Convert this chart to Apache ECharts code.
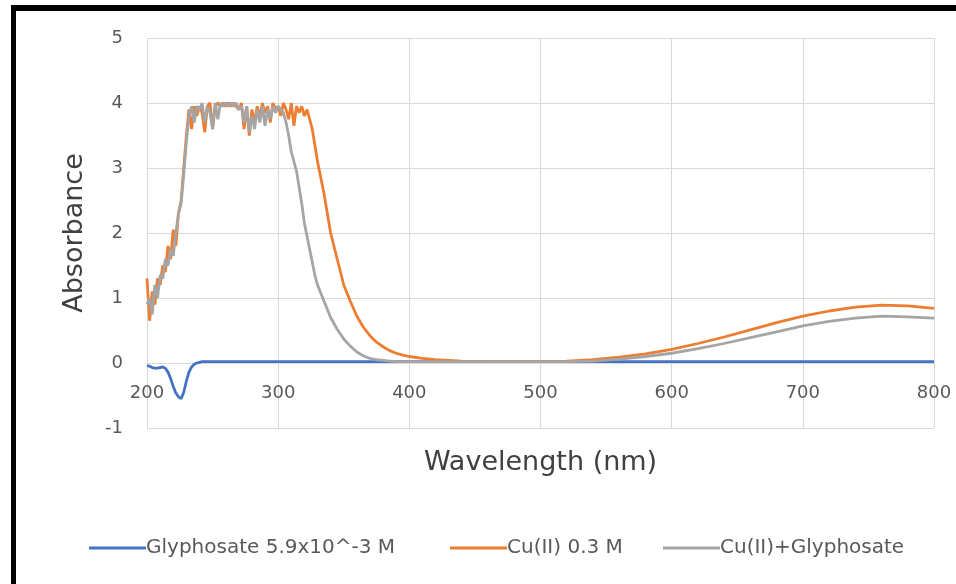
<!DOCTYPE html>
<html>
<head>
<meta charset="utf-8">
<script src="https://cdn.jsdelivr.net/npm/echarts@6/dist/echarts.min.js"></script>
<style>
html,body{margin:0;padding:0;background:#fff;}
#main{width:956px;height:584px;}
</style>
</head>
<body>
<div id="main"></div>
<script>
// wavelength (nm)
var wavelength = [
    200,202,204,206,208,210,212,214,216,218,220,222,224,226,228,230,232,234,236,238,
    240,242,244,246,248,250,252,254,256,258,260,262,264,266,268,270,272,274,276,278,
    280,282,284,286,288,290,292,294,296,298,300,302,304,306,308,310,312,314,316,318,
    320,322,324,326,328,330,
    335,340,345,350,355,360,365,370,375,380,385,390,395,400,
    410,420,440,460,480,500,520,540,560,580,600,620,640,660,680,700,720,740,760,780,800
];
// Glyphosate 5.9x10^-3 M
var glyphosate = [
    -0.04,-0.05,-0.07,-0.08,-0.08,-0.07,-0.06,-0.08,-0.14,-0.24,-0.36,-0.46,-0.52,-0.55,-0.45,-0.28,-0.14,-0.06,-0.02,0.0,
    0.01,0.02,0.02,0.02,0.02,0.02,0.02,0.02,0.02,0.02,0.02,0.02,0.02,0.02,0.02,0.02,0.02,0.02,0.02,0.02,
    0.02,0.02,0.02,0.02,0.02,0.02,0.02,0.02,0.02,0.02,0.02,0.02,0.02,0.02,0.02,0.02,0.02,0.02,0.02,0.02,
    0.02,0.02,0.02,0.02,0.02,0.02,
    0.02,0.02,0.02,0.02,0.02,0.02,0.02,0.02,0.02,0.02,0.02,0.02,0.02,0.02,
    0.02,0.02,0.02,0.02,0.02,0.02,0.02,0.02,0.02,0.02,0.02,0.02,0.02,0.02,0.02,0.02,0.02,0.02,0.02,0.02,0.02
];
// Cu(II) 0.3 M
var copper = [
    1.3,0.65,1.1,0.9,1.3,1.2,1.5,1.4,1.8,1.6,2.05,1.8,2.3,2.5,3.0,3.5,3.9,3.6,3.95,3.8,
    3.95,3.85,3.55,3.95,4.0,3.6,3.95,4.0,3.95,4.0,3.95,4.0,3.95,4.0,3.95,3.9,4.0,3.6,3.95,3.5,
    3.9,3.7,3.95,3.8,4.0,3.85,3.95,3.7,4.0,3.9,3.95,3.8,4.0,3.9,3.75,4.0,3.65,3.95,3.85,3.95,
    3.8,3.9,3.75,3.6,3.35,3.1,
    2.6,2.0,1.6,1.2,0.95,0.72,0.55,0.42,0.32,0.25,0.19,0.15,0.12,0.1,
    0.07,0.05,0.03,0.02,0.02,0.02,0.03,0.05,0.09,0.14,0.21,0.3,0.4,0.51,0.62,0.72,0.8,0.86,0.89,0.88,0.84
];
// Cu(II)+Glyphosate
var mixture = [
    0.9,1.0,0.75,1.2,1.0,1.35,1.3,1.6,1.5,1.75,1.65,2.0,2.3,2.45,2.9,3.4,3.8,3.95,3.7,3.95,
    3.9,4.0,3.7,3.95,3.85,3.6,4.0,3.75,4.0,3.95,4.0,3.95,4.0,3.95,4.0,3.9,3.95,3.7,3.95,3.55,
    3.8,3.6,3.9,3.7,3.95,3.65,3.9,3.75,3.95,3.85,3.95,3.9,3.85,3.7,3.5,3.25,3.1,2.95,2.7,2.45,
    2.15,1.95,1.75,1.55,1.35,1.2,
    0.95,0.7,0.52,0.37,0.26,0.17,0.11,0.07,0.05,0.04,0.03,0.02,0.02,0.02,
    0.02,0.02,0.02,0.02,0.02,0.02,0.02,0.03,0.06,0.1,0.15,0.22,0.3,0.39,0.48,0.57,0.64,0.69,0.72,0.71,0.69
];
var seriesNames = ['Glyphosate 5.9x10^-3 M', 'Cu(II) 0.3 M', 'Cu(II)+Glyphosate'];
var seriesColors = ['#4472C4', '#ED7D31', '#A5A5A5'];

function pairs(xs, ys){
    var out = [];
    for(var i = 0; i < xs.length; i++){
        out.push([xs[i], ys[i]]);
    }
    return out;
}

var FONT = 'DejaVu Sans';
var chart = echarts.init(document.getElementById('main'));
var allValues = [glyphosate, copper, mixture];
var series = [];
for(var k = 0; k < 3; k++){
    series.push({
        name: seriesNames[k],
        type: 'line',
        data: pairs(wavelength, allValues[k]),
        showSymbol: false,
        lineStyle: {width: 2.8, color: seriesColors[k]},
        itemStyle: {color: seriesColors[k]},
        z: 3 + k
    });
}

//图例：每一项单独定位
var legendLeft = [89, 450, 663];
var legends = [];
for(var j = 0; j < 3; j++){
    legends.push({
        left: legendLeft[j],
        top: 538,
        padding: 0,
        icon: 'rect',
        itemWidth: 57,
        itemHeight: 3,
        textStyle: {fontFamily: FONT, fontSize: 20, color: '#595959', padding: [0, 0, 0, -5]},
        data: [seriesNames[j]]
    });
}

chart.setOption({
    animation: false,
    backgroundColor: '#fff',
    grid: {left: 147, right: 22, top: 38, bottom: 156},
    legend: legends,
    xAxis: {
        type: 'value',
        min: 200, max: 800, interval: 100,
        offset: -65,
        name: 'Wavelength (nm)',
        nameLocation: 'middle',
        nameGap: 86,
        nameTextStyle: {fontFamily: FONT, fontSize: 27, color: '#404040'},
        axisLine: {onZero: false, lineStyle: {color: '#d9d9d9', width: 1}},
        axisTick: {show: false},
        axisLabel: {fontFamily: FONT, fontSize: 18, color: '#595959', margin: 21},
        splitLine: {show: true, lineStyle: {color: '#d9d9d9', width: 1}}
    },
    yAxis: {
        type: 'value',
        min: -1, max: 5, interval: 1,
        name: 'Absorbance',
        nameLocation: 'middle',
        nameGap: 59,
        nameTextStyle: {fontFamily: FONT, fontSize: 27, color: '#404040'},
        axisLine: {show: false},
        axisTick: {show: false},
        axisLabel: {fontFamily: FONT, fontSize: 18, color: '#595959', margin: 24},
        splitLine: {show: true, lineStyle: {color: '#d9d9d9', width: 1}}
    },
    graphic: [
        {type: 'rect', shape: {x: 11, y: 5, width: 945, height: 6}, style: {fill: '#000'}, z: 100},
        {type: 'rect', shape: {x: 11, y: 5, width: 5, height: 579}, style: {fill: '#000'}, z: 100}
    ],
    series: series
});
</script>
</body>
</html>
